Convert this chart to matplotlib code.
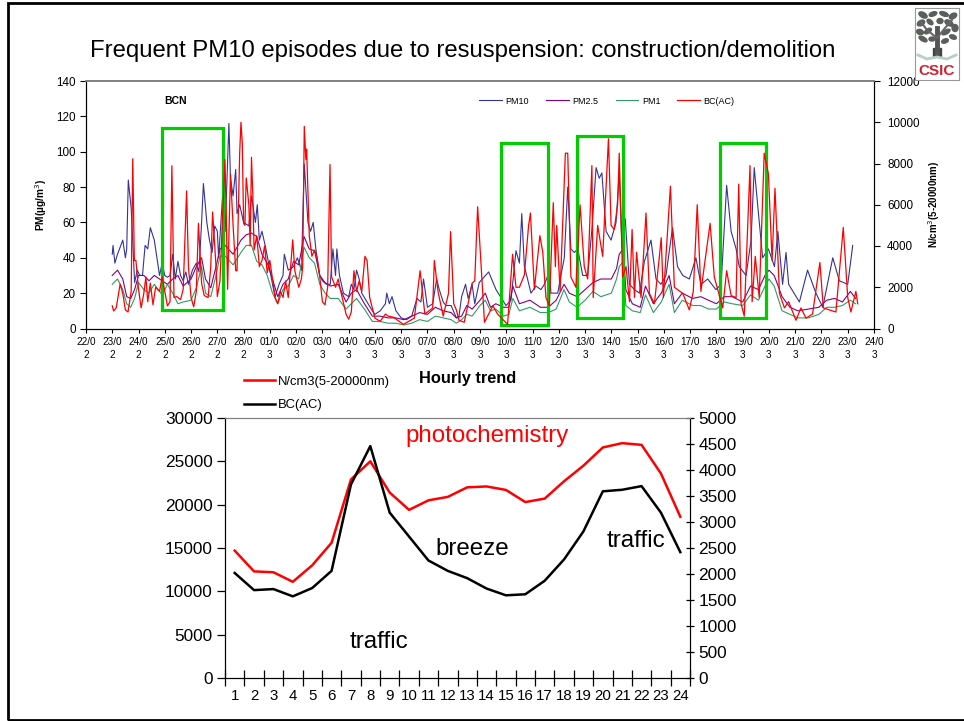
import matplotlib
matplotlib.use("Agg")
import matplotlib.pyplot as plt
from matplotlib.patches import Rectangle, Ellipse

plt.rcParams["font.family"] = ["Liberation Sans", "DejaVu Sans"]

W, H = 964, 721

# days since 22/02
PM10_DAY = [1,1.03,1.1,1.2,1.4,1.5,1.55,1.61,1.72,1.85,1.95,2.05,2.15,2.25,2.35,2.45,2.6,2.7,2.8,2.9,3.0,3.1,3.2,3.3,3.4,3.5,3.6,3.7,3.8,3.9,4.05,4.2,4.3,4.4,4.47,4.6,4.7,4.8,4.9,5.0,5.05,5.2,5.3,5.44,5.5,5.6,5.7,5.75,5.85,6.0,6.2,6.3,6.45,6.52,6.6,6.7,6.85,7.0,7.1,7.2,7.35,7.5,7.55,7.7,7.9,8.05,8.2,8.31,8.45,8.55,8.65,8.75,8.9,9.0,9.15,9.3,9.4,9.5,9.55,9.65,9.8,10.0,10.1,10.2,10.3,10.4,10.5,10.7,10.9,11.0,11.2,11.4,11.45,11.55,11.65,11.8,12.0,12.2,12.4,12.6,12.75,12.85,13.0,13.2,13.35,13.45,13.6,13.7,13.9,14.1,14.2,14.3,14.45,14.55,14.7,14.8,14.97,15.33,15.61,15.99,16.18,16.37,16.5,16.59,16.69,16.81,16.94,17.13,17.32,17.45,17.64,17.7,17.96,18.08,18.21,18.34,18.46,18.59,18.72,18.91,19.1,19.26,19.42,19.54,19.64,19.8,19.99,20.18,20.3,20.41,20.53,20.69,20.88,21.07,21.26,21.51,21.7,21.89,22.08,22.33,22.52,22.72,22.97,23.22,23.41,23.67,23.98,24.18,24.39,24.56,24.75,24.87,25.13,25.32,25.44,25.57,25.76,25.98,26.21,26.34,26.52,26.65,26.75,27.16,27.47,27.79,28.05,28.43,28.68,29.0,29.19]
PM10 = [42,47,37,42,50,40,45,84,68,26,33,30,30,47,45,57,50,40,30,37,30,29,30,42,28,38,30,27,32,25,33,37,32,60,82,60,50,43,58,55,40,75,55,116,85,75,90,65,70,60,58,75,60,70,50,55,45,33,25,18,25,30,42,33,35,40,33,93,60,55,60,45,30,27,25,25,45,30,45,30,20,18,25,22,33,28,20,15,10,8,10,14,20,14,18,10,6,5,7,17,15,28,12,14,28,22,15,13,13,6,7,18,25,17,25,14,26,32,22,13,16,44,37,65,35,28,20,24,22,25,32,20,20,30,40,80,45,43,45,30,30,56,91,85,88,55,50,60,88,45,62,25,22,20,38,50,28,25,30,57,35,30,28,40,25,28,22,25,81,55,45,35,30,50,91,70,40,45,35,55,25,43,25,15,33,20,12,40,27,25,47]

PM25_DAY = [1,1.2,1.4,1.55,1.7,1.85,2.0,2.2,2.4,2.6,2.9,3.1,3.3,3.5,3.7,4.0,4.2,4.4,4.55,4.75,4.95,5.1,5.3,5.6,5.9,6.1,6.3,6.5,6.7,6.9,7.1,7.3,7.5,7.7,7.9,8.1,8.3,8.5,8.7,8.9,9.1,9.3,9.6,9.9,10.1,10.3,10.6,10.9,11.2,11.5,11.8,12.1,12.4,12.7,13.0,13.3,13.6,13.9,14.1,14.3,14.5,14.7,15.0,15.2,15.4,15.6,15.9,16.1,16.25,16.5,16.9,17.3,17.6,17.9,18.2,18.4,18.7,19.0,19.3,19.6,20.0,20.2,20.3,20.45,20.55,20.8,21.1,21.3,21.6,21.9,22.2,22.4,22.7,23.1,23.4,23.7,24.0,24.3,24.6,25.0,25.3,25.6,25.85,26.0,26.2,26.5,26.8,27.1,27.5,27.9,28.2,28.5,28.8,29.1,29.3]
PM25 = [30,33,28,18,17,22,30,30,27,30,27,25,28,30,24,28,35,40,28,23,35,45,47,42,50,53,54,52,42,37,28,18,25,28,38,36,52,45,44,30,26,24,25,15,20,22,14,7,7,6,6,5,7,9,8,12,10,9,6,7,13,11,16,20,12,14,12,12,24,14,16,12,12,16,25,20,18,22,26,28,28,34,42,45,22,14,12,24,14,20,30,14,20,17,18,16,14,18,18,15,24,22,30,33,30,18,12,10,11,12,16,17,15,21,17]
PM1 = [25,28,22,14,12,17,26,22,20,25,19,25,20,14,15,16,23,35,20,18,30,41,41,36,43,47,47,38,36,30,20,14,22,24,30,28,46,40,37,25,20,17,17,11,14,17,11,4,4,3,3,2,3,5,4,7,6,5,3,5,8,7,13,16,10,11,7,8,17,10,12,9,9,11,22,15,12,16,21,18,20,28,35,38,13,10,9,19,9,15,25,9,16,13,13,11,11,15,14,13,19,16,24,28,24,10,8,6,6,8,12,12,13,16,14]

RED_DAY = [1,1.05,1.15,1.3,1.4,1.5,1.6,1.72,1.78,1.84,1.9,2.0,2.1,2.2,2.28,2.35,2.45,2.55,2.65,2.8,2.9,3.0,3.1,3.2,3.27,3.35,3.45,3.6,3.7,3.83,3.9,4.0,4.1,4.2,4.28,4.4,4.5,4.65,4.75,4.82,4.95,5.0,5.1,5.29,5.34,5.39,5.5,5.6,5.7,5.75,5.85,5.9,5.95,6.0,6.05,6.1,6.2,6.25,6.3,6.35,6.4,6.5,6.6,6.7,6.8,6.9,7.0,7.1,7.2,7.3,7.4,7.5,7.6,7.7,7.87,7.95,8.1,8.2,8.25,8.31,8.37,8.4,8.5,8.6,8.7,8.8,8.9,9.0,9.1,9.2,9.29,9.35,9.5,9.6,9.7,9.9,10.0,10.1,10.2,10.3,10.4,10.5,10.62,10.7,10.8,11.0,11.2,11.4,11.5,11.7,12.08,12.5,12.72,12.9,13.2,13.26,13.4,13.6,13.8,13.88,14.0,14.1,14.2,14.4,14.5,14.7,14.8,14.91,15.17,15.49,15.67,15.86,16.05,16.24,16.37,16.5,16.69,16.85,16.92,17.07,17.28,17.39,17.51,17.64,17.79,17.87,17.92,18.05,18.25,18.34,18.46,18.65,18.81,18.97,19.1,19.26,19.31,19.48,19.67,19.89,19.99,20.11,20.24,20.3,20.43,20.56,20.69,20.79,20.88,20.96,21.13,21.32,21.45,21.64,21.83,21.9,21.98,22.25,22.4,22.72,22.97,23.12,23.27,23.41,23.76,23.92,24.24,24.39,24.56,24.75,24.85,24.94,25.06,25.28,25.36,25.48,25.63,25.82,25.98,26.12,26.23,26.4,26.59,26.75,27.03,27.22,27.41,27.66,27.94,28.07,28.3,28.55,28.83,29.0,29.12,29.31,29.38]
RED = [1100,850,1000,2150,1700,900,800,1800,8230,3300,3300,1900,1000,1700,2500,1300,2200,1150,2000,1800,2500,1800,1100,1300,7890,1500,1550,1400,1900,6670,3000,1500,1050,1800,5100,2200,1600,1500,3000,5650,3000,1550,2300,8200,5500,1900,7500,5000,2800,2800,8500,10000,9000,5100,5000,7300,6000,4000,8300,6500,3800,4500,3000,3300,4000,2700,3300,2400,1500,1200,1800,1500,2300,1500,4300,2800,2000,2400,3000,9800,8200,8700,4500,3500,3800,3400,2500,1300,1150,2000,7950,2500,2000,2400,1800,700,450,800,2800,1800,2300,1800,3500,3300,1500,500,350,700,600,550,200,500,2800,700,1000,3300,1800,600,1700,4700,1200,900,400,300,900,2200,2300,5900,300,1100,700,450,200,3600,2000,2000,2600,5000,5600,1900,4500,3700,1500,1100,6100,3000,5000,1800,8500,8500,2500,2000,6000,3000,2400,7900,1500,5000,3500,9200,5000,4800,6000,8500,2500,3000,1300,4800,1500,3700,1500,5600,1700,1200,3500,4400,1500,6900,2000,1700,900,1800,6000,1800,5100,2500,1000,2800,1600,1500,7000,1200,600,7900,1300,3500,1500,8500,7500,3300,6800,1700,1000,1300,400,1000,500,700,3200,1000,900,800,4900,1500,800,1800,1200]

DATE_LABELS = ["22/0\n2","23/0\n2","24/0\n2","25/0\n2","26/0\n2","27/0\n2","28/0\n2","01/0\n3","02/0\n3","03/0\n3","04/0\n3","05/0\n3","06/0\n3","07/0\n3","08/0\n3","09/0\n3","10/0\n3","11/0\n3","12/0\n3","13/0\n3","14/0\n3","15/0\n3","16/0\n3","17/0\n3","18/0\n3","19/0\n3","20/0\n3","21/0\n3","22/0\n3","23/0\n3","24/0\n3"]

# (day start, day end, low, high) on the PM scale
EPISODES = [(2.88, 5.2, 10.7, 113.6), (15.8, 17.58, 1.9, 104.9), (18.68, 20.43, 6.2, 109), (24.15, 25.89, 6.2, 104.9)]

HOURS = list(range(1, 25))
NCM3_HOURLY = [14700,12300,12200,11100,13000,15600,22900,25000,21400,19400,20500,20900,22000,22100,21700,20300,20700,22700,24500,26600,27100,26900,23600,18600]
BC_HOURLY = [2020,1690,1710,1570,1730,2060,3720,4460,3180,2720,2260,2060,1920,1720,1590,1610,1870,2280,2820,3590,3620,3690,3180,2420]

# logo foliage blobs: x, y, width, height, angle
LEAVES = [(8,7,9,5,30),(18,6,8,4,-20),(29,6,9,4,20),(38,8,8,5,-30),(6,15,8,5,-30),(15,14,7,4,40),(25,13,6,5,0),
          (34,15,9,5,30),(40,20,6,7,0),(5,24,7,5,20),(13,23,8,4,-35),(31,24,9,4,-30),(38,29,7,4,20),(8,31,9,4,30),
          (17,31,6,4,0),(30,33,7,4,-20)]


def axes_px(fig, left, top, right, bottom):
    return fig.add_axes([left / W, 1 - bottom / H, (right - left) / W, (bottom - top) / H])


def main():
    fig = plt.figure(figsize=(W / 100, H / 100), dpi=100)

    # slide border
    fig.add_artist(Rectangle((8 / W, 1 - 719.5 / H), 1, 716.5 / H, transform=fig.transFigure,
                             fill=False, ec="black", lw=2))
    fig.text(463 / W, 1 - 51 / H, "Frequent PM10 episodes due to resuspension: construction/demolition",
             fontsize=17.2, ha="center", va="center")

    # top panel
    ax = axes_px(fig, 86, 81, 874, 328.5)
    ax2 = ax.twinx()
    l1, = ax.plot(PM10_DAY, PM10, color="#333399", lw=0.8, label="PM10")
    l2, = ax.plot(PM25_DAY, PM25, color="#800080", lw=0.8, label="PM2.5")
    l3, = ax.plot(PM25_DAY, PM1, color="#339966", lw=0.8, label="PM1")
    l4, = ax2.plot(RED_DAY, RED, color="#ff0000", lw=0.9, label="BC(AC)")
    ax.set_xlim(0, 30)
    ax.set_ylim(0, 140)
    ax2.set_ylim(0, 12000)
    ax.set_xticks(range(31))
    ax.set_xticklabels(DATE_LABELS, fontsize=7.2, linespacing=1.45)
    ax.set_yticks(range(0, 141, 20))
    ax2.set_yticks(range(0, 12001, 2000))
    ax.tick_params(axis="y", labelsize=8.4, length=4, width=0.8, pad=3.5)
    ax2.tick_params(axis="y", labelsize=8.4, length=4, width=0.8, pad=5.5)
    ax.tick_params(axis="x", length=3, width=0.8, pad=3)
    for a in (ax, ax2):
        a.spines["top"].set_color("#808080")
        a.spines["top"].set_linewidth(1.2)
        a.patch.set_visible(False)
    ax.set_ylabel(r"PM(µg/m$^3$)", fontsize=7.3, fontweight="bold", labelpad=5)
    ax2.set_ylabel(r"N/cm$^3$(5-20000nm)", fontsize=7, fontweight="bold", labelpad=5)
    ax.text(164 / W, 1 - 101 / H, "BCN", transform=fig.transFigure, fontsize=7.5, fontweight="bold", va="center")
    for x0, x1, lo, hi in EPISODES:
        ax.add_patch(Rectangle((x0, lo), x1 - x0, hi - lo, fill=False, ec="#00cc00", lw=2.3, zorder=5))
    ax2.set_zorder(ax.get_zorder() + 1)
    ax2.legend(handles=[l1, l2, l3, l4], ncol=4, frameon=False, fontsize=6.5, loc="center",
               bbox_to_anchor=(607 / W, 1 - 101 / H), bbox_transform=fig.transFigure,
               handlelength=2.5, columnspacing=1.9, handletextpad=0.4)

    # bottom panel
    bx = axes_px(fig, 225, 418, 690, 678)
    bx2 = bx.twinx()
    r, = bx.plot(HOURS, NCM3_HOURLY, color="#ff0000", lw=1.8, label="N/cm3(5-20000nm)")
    k, = bx2.plot(HOURS, BC_HOURLY, color="black", lw=1.8, label="BC(AC)")
    bx.set_xlim(0.5, 24.5)
    bx.set_ylim(0, 30000)
    bx2.set_ylim(0, 5000)
    bx.set_xticks([h - 0.5 for h in HOURS] + [24.5])
    bx.set_xticklabels([])
    bx.set_xticks(HOURS, minor=True)
    bx.set_xticklabels([str(h) for h in HOURS], minor=True, fontsize=10.8)
    bx.tick_params(axis="x", which="major", direction="inout", length=11, width=0.9)
    bx.tick_params(axis="x", which="minor", length=0, pad=8)
    bx.set_yticks(range(0, 30001, 5000))
    bx2.set_yticks(range(0, 5001, 500))
    bx.tick_params(axis="y", labelsize=12.4, length=6, width=0.9, pad=3)
    bx2.tick_params(axis="y", labelsize=12.4, length=6, width=0.9, direction="inout", pad=3)
    for a in (bx, bx2):
        a.spines["top"].set_color("#808080")
    fig.legend(handles=[r, k], frameon=False, fontsize=9.4, loc="upper left",
               bbox_to_anchor=(232 / W, 1 - 364 / H), handlelength=2.4, handletextpad=0.2,
               labelspacing=0.85)
    fig.text(419 / W, 1 - 378 / H, "Hourly trend", fontsize=11.8, fontweight="bold", va="center")
    fig.text(405 / W, 1 - 436 / H, "photochemistry", fontsize=17.4, color="#ff0000", va="center")
    fig.text(435 / W, 1 - 549 / H, "breeze", fontsize=17.4, va="center")
    fig.text(607 / W, 1 - 541 / H, "traffic", fontsize=17.4, va="center")
    fig.text(350 / W, 1 - 642 / H, "traffic", fontsize=17.4, va="center")

    # CSIC logo
    logo = fig.add_axes([915 / W, 1 - 80 / H, 44 / W, 72 / H], zorder=10)
    logo.set_xlim(0, 44)
    logo.set_ylim(72, 0)
    logo.set_xticks([])
    logo.set_yticks([])
    for s in logo.spines.values():
        s.set_color("#999999")
    for x, y, w, h, ang in LEAVES:
        logo.add_patch(Ellipse((x, y), w, h, angle=ang, color="#5a5f5c"))
    logo.plot([22, 22], [20, 46], color="#555555", lw=3.5)
    logo.plot([22, 12, 6], [30, 22, 14], color="#666666", lw=1.5)
    logo.plot([22, 30, 37], [30, 20, 12], color="#666666", lw=1.5)
    logo.add_patch(Rectangle((18, 40), 8, 8, color="#3f4542"))
    logo.plot([3, 12, 22, 32, 41], [47, 51, 49, 51, 47], color="#b7cfc6", lw=2)
    logo.text(22, 63, "CSIC", fontsize=11, fontweight="bold", color="#d02030", ha="center", va="center")

    fig.savefig("out.png", dpi=100)


if __name__ == "__main__":
    main()
